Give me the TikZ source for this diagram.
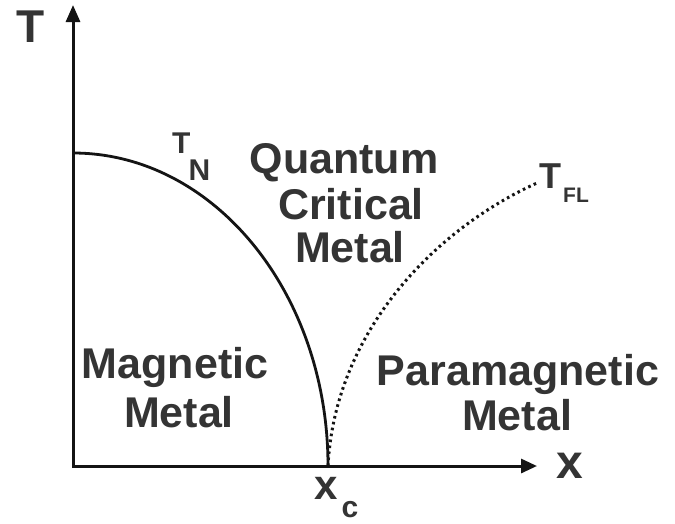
\documentclass[tikz,border=0pt]{standalone}
\usepackage{fontspec}
\setmainfont{Liberation Sans}
\usetikzlibrary{arrows.meta}
\definecolor{txtgray}{RGB}{52,52,52}
\definecolor{inkblack}{RGB}{20,20,20}
\newcommand\myfs[1]{\fontsize{#1}{#1}\selectfont}
\begin{document}
\begin{tikzpicture}[x=1pt,y=-1pt,
  axisline/.style={draw=inkblack,line width=3pt,{Triangle[length=17pt,width=14pt]}-{Triangle[length=16pt,width=14pt]}},
  phaseline/.style={draw=inkblack,line width=2.8pt},
  crossline/.style={draw=inkblack,line width=3pt,dash pattern=on 2.6pt off 3.4pt},
  lbl/.style={inner sep=0pt,anchor=base,text=txtgray,font=\bfseries\myfs{43}},
  axlbl/.style={inner sep=0pt,anchor=base,text=txtgray,font=\bfseries}]
\fill[white] (0,0) rectangle (675,523);
\useasboundingbox (0,0) rectangle (675,523);
% coordinates
\coordinate (Ttip) at (73,5);
\coordinate (O) at (73,466);
\coordinate (xtip) at (537,466);
\coordinate (TNstart) at (73,153);
\coordinate (xc) at (328,466);
\coordinate (TFLend) at (537,183);
% axes
\draw[axisline] (Ttip) -- (O) -- (xtip);
% Neel line
\draw[phaseline] (TNstart) arc[start angle=-90,end angle=0,x radius=255,y radius=313];
% Fermi-liquid crossover
\draw[crossline] (xc) .. controls (335,330) and (437,228) .. (TFLend);
% axis labels
\node[axlbl,font=\bfseries\myfs{46}] (Tlab) at (31,42) {T};
\node[axlbl,font=\bfseries\myfs{48}] (xlab) at (570,478) {x};
\node[axlbl,anchor=base west] (xclab) at (314,499) {\myfs{42}x\kern4pt\raisebox{-18pt}{\myfs{30}c}};
\node[axlbl,anchor=base west] (TNlab) at (172,153) {\myfs{30}T\kern-2pt\raisebox{-27pt}{N}};
\node[axlbl,anchor=base west] (TFLlab) at (539,188) {\myfs{36}T\kern2pt\raisebox{-14pt}{\myfs{21}FL}};
% region labels
\node[lbl] (q1) at (344,173) {Quantum};
\node[lbl] (q2) at (351,219) {Critical};
\node[lbl] (q3) at (350,262) {Metal};
\node[lbl] (m1) at (175,378) {Magnetic};
\node[lbl] (m2) at (179,427) {Metal};
\node[lbl] (p1) at (518,385) {Paramagnetic};
\node[lbl] (p2) at (517,430) {Metal};
\end{tikzpicture}
\end{document}
